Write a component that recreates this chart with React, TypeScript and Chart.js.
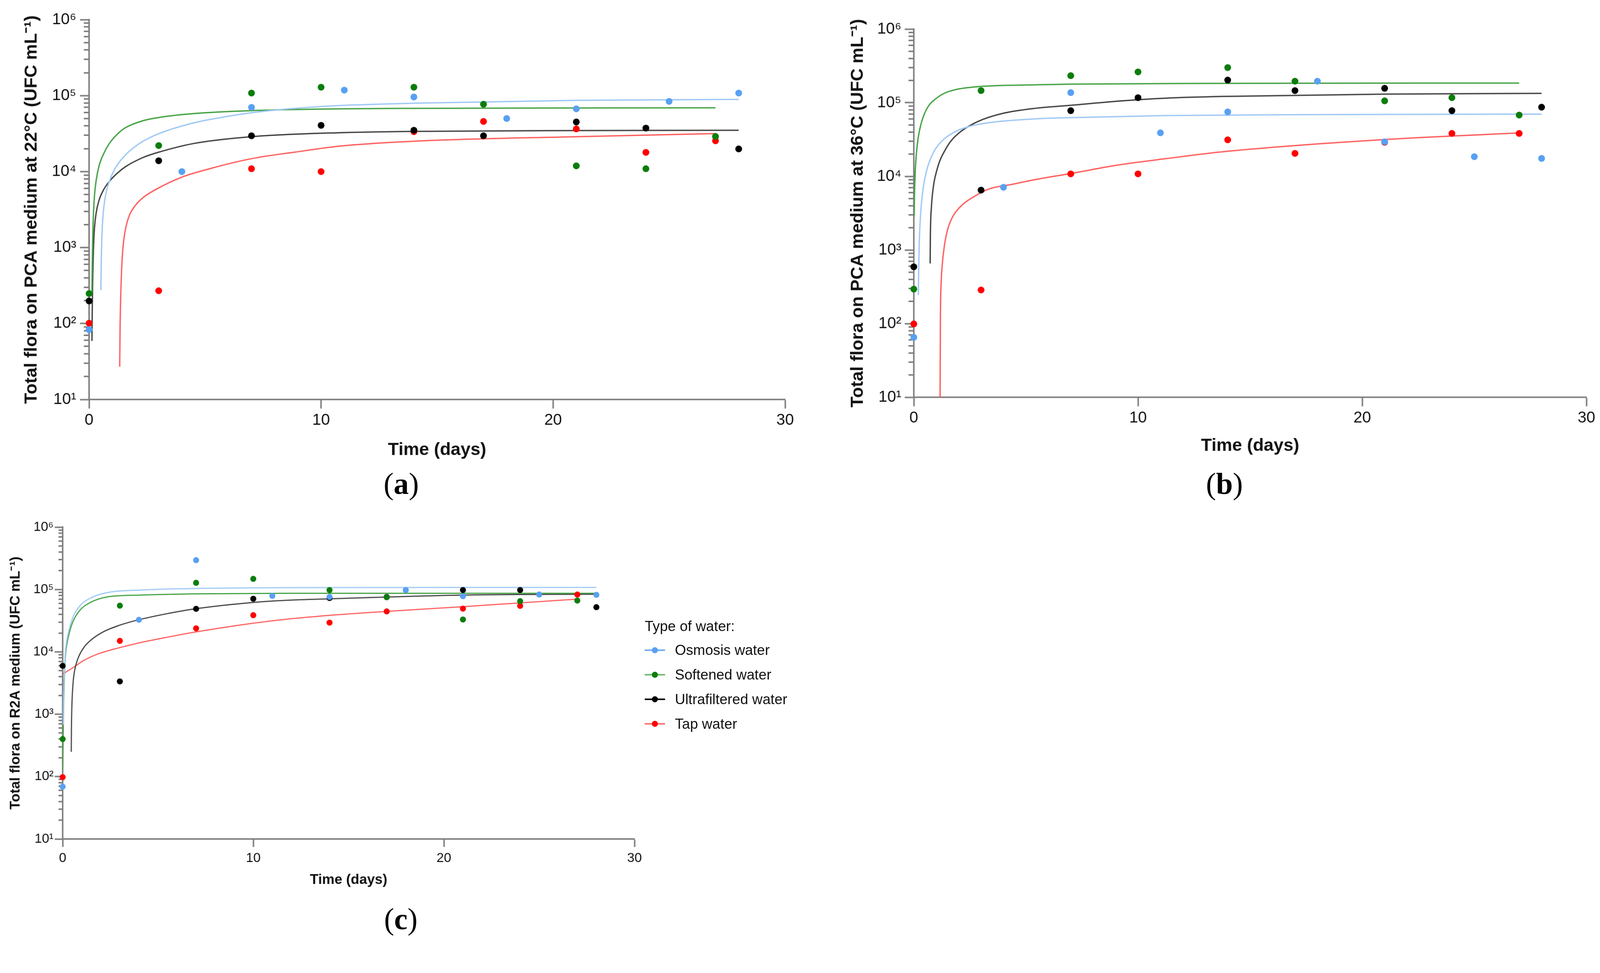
import { useEffect, useRef } from 'react';
import { Chart, registerables } from 'chart.js';

Chart.register(...registerables);

const FONT = "'Liberation Sans', Arial, Helvetica, sans-serif";
const SERIF = "'Liberation Serif', 'Times New Roman', Times, serif";
const AXIS_GREY = '#7f7f7f';
const TEXT = '#111111';
const PAGE_W = 4239;
const PAGE_H = 2490;

const SERIES_NAMES = ['Osmosis water', 'Softened water', 'Ultrafiltered water', 'Tap water'];
const DOT_COLORS = ['#58a0f2', '#0b7d0b', '#000000', '#ff0000'];
const FIT_COLORS = ['#9dc7f5', '#40a040', '#404040', '#ff5c5c'];
const LEGEND_LINES = ['#6aaaf5', '#6cb86c', '#000000', '#ff6e6e'];

// sampling days of each water type (same in the three media)
const DAYS_OSMOSIS = [0, 4, 7, 11, 14, 18, 21, 25, 28];
const DAYS_SOFTENED = [0, 3, 7, 10, 14, 17, 21, 24, 27];
const DAYS_ULTRA = [0, 3, 7, 10, 14, 17, 21, 24, 28];
const DAYS_TAP = [0, 3, 7, 10, 14, 17, 21, 24, 27];

// (a) PCA 22°C, UFC/mL
const A_OSMOSIS = [83, 10000, 70000, 118000, 96000, 50000, 67000, 84000, 108000];
const A_SOFTENED = [248, 22000, 108000, 129000, 129000, 77000, 11900, 10900, 29000];
const A_ULTRA = [198, 13900, 29600, 40600, 35000, 29600, 45000, 37400, 19900];
const A_TAP = [101, 270, 10900, 10000, 33500, 45700, 36500, 17900, 25400];

// (b) PCA 36°C
const B_OSMOSIS = [65, 7100, 137000, 39000, 75000, 196000, 29500, 18500, 17500];
const B_SOFTENED = [294, 146000, 233000, 262000, 300000, 196000, 106000, 117000, 68000];
const B_ULTRA = [590, 6500, 78000, 117000, 203000, 146000, 157000, 78000, 87000];
const B_TAP = [99, 286, 10800, 10800, 31300, 20500, 29000, 38300, 38300];

// (c) R2A
const C_OSMOSIS = [69, 32700, 295000, 79000, 76000, 98000, 78000, 83000, 82000];
const C_SOFTENED = [400, 55000, 128000, 148000, 98000, 75000, 33000, 65000, 66500];
const C_ULTRA = [5970, 3360, 49000, 71000, 73000, 76000, 98000, 98000, 52000];
const C_TAP = [98, 15000, 23800, 38700, 29400, 44500, 49300, 54700, 83000];

// fitted curves: [day, UFC/mL]
const A_FIT_OSMOSIS: [number, number][] = [[0.508, 275], [0.523, 630], [0.545, 1220], [0.581, 2190], [0.639, 3480], [0.726, 5160], [0.871, 7420], [1.09, 10600], [1.38, 14300], [1.74, 18600], [2.32, 25000], [3, 31500], [4.5, 43700], [5.95, 53200], [7, 59500], [8.86, 67900], [10.8, 74000], [14, 79400], [21, 86500], [28, 89100]];
const A_FIT_SOFTENED: [number, number][] = [[0.123, 250], [0.138, 630], [0.16, 1480], [0.189, 2860], [0.232, 4840], [0.305, 7660], [0.436, 12100], [0.617, 16900], [0.871, 23400], [1.235, 31500], [1.6, 38300], [2.32, 46700], [3, 51500], [4.5, 58000], [7, 63500], [10.8, 67000], [14, 68000], [21, 68800], [27, 69000]];
const A_FIT_ULTRA: [number, number][] = [[0.123, 59], [0.138, 170], [0.16, 455], [0.189, 1000], [0.232, 1810], [0.305, 2860], [0.436, 4250], [0.617, 5710], [0.871, 7420], [1.235, 9640], [1.6, 11750], [2.32, 15300], [3, 18000], [4.5, 23400], [7, 28800], [10.8, 32500], [14, 33800], [21, 34700], [28, 35000]];
const A_FIT_TAP: [number, number][] = [[1.32, 27], [1.336, 88], [1.365, 235], [1.416, 630], [1.489, 1220], [1.598, 1930], [1.743, 2680], [1.96, 3480], [2.32, 4530], [3, 6100], [4, 8460], [5.23, 10970], [7, 14800], [8.86, 18000], [10.8, 21600], [14, 25100], [21, 28800], [27, 31600]];

const B_FIT_OSMOSIS: [number, number][] = [[0.203, 245], [0.218, 552], [0.24, 1160], [0.278, 2290], [0.338, 4220], [0.428, 7260], [0.563, 11700], [0.751, 17500], [0.977, 23800], [1.352, 32200], [1.878, 40800], [2.48, 47700], [3.6, 54700], [5.485, 60500], [7.02, 62700], [11.25, 67000], [18, 69000], [28, 70000]];
const B_FIT_SOFTENED: [number, number][] = [[0.015, 2820], [0.03, 5530], [0.06, 10900], [0.113, 20000], [0.188, 32200], [0.3, 48400], [0.45, 68000], [0.676, 92200], [0.977, 113000], [1.352, 134000], [1.878, 151000], [2.48, 161000], [3.6, 170000], [5.485, 175000], [7.02, 179000], [14, 183000], [27, 185000]];
const B_FIT_ULTRA: [number, number][] = [[0.729, 655], [0.736, 1330], [0.751, 2450], [0.781, 3680], [0.826, 5530], [0.902, 8320], [1.014, 11700], [1.165, 16400], [1.352, 21500], [1.653, 30100], [2.104, 40800], [2.855, 55500], [3.982, 71800], [5.485, 84400], [7.02, 92300], [9.24, 105700], [11.25, 115300], [14, 122000], [21, 131000], [28, 134000]];
const B_FIT_TAP: [number, number][] = [[1.172, 10], [1.187, 124], [1.217, 344], [1.277, 676], [1.367, 1160], [1.503, 1870], [1.728, 2810], [2.104, 3950], [2.63, 5180], [3.381, 6780], [4.358, 7760], [5.485, 9120], [7.02, 10960], [9.24, 14450], [11.25, 17400], [14, 21900], [21, 31600], [27, 38900]];

const C_FIT_OSMOSIS: [number, number][] = [[0.03, 680], [0.05, 2090], [0.09, 4570], [0.13, 8710], [0.2, 14100], [0.34, 22900], [0.56, 37200], [0.91, 55000], [1.44, 72400], [2.33, 89000], [4.09, 98000], [7, 104000], [11.77, 107000], [20, 108000], [28, 108000]];
const C_FIT_SOFTENED: [number, number][] = [[0.01, 126], [0.04, 930], [0.08, 3090], [0.13, 7410], [0.22, 13200], [0.38, 21900], [0.56, 31600], [0.91, 46800], [1.44, 61700], [2.33, 75900], [4.09, 81300], [7, 85000], [11.77, 87000], [20, 87000], [28, 87000]];
const C_FIT_ULTRA: [number, number][] = [[0.451, 250], [0.46, 580], [0.477, 1190], [0.513, 2250], [0.575, 3940], [0.69, 6110], [0.866, 8740], [1.132, 12000], [1.53, 15900], [2.149, 21100], [3, 26800], [3.99, 32700], [5.42, 40600], [7, 49200], [10, 62000], [11.77, 67100], [14, 70800], [21, 81300], [28, 84300]];
const C_FIT_TAP: [number, number][] = [[0.02, 4440], [0.56, 5620], [1.09, 7240], [1.88, 9330], [3, 11700], [4.09, 14100], [5.42, 17000], [7, 20900], [10, 28800], [11.77, 33500], [14, 38500], [17, 44500], [21, 53000], [24, 61000], [27, 70000]];

const X_TICKS = [0, 10, 20, 30];
const Y_DECADES = [1, 2, 3, 4, 5, 6];
const Y_MANTISSAS = [1, 2, 3, 4, 5, 6, 7, 8, 9];
const SUPERSCRIPTS = ['⁰', '¹', '²', '³', '⁴', '⁵', '⁶'];

const SERIES_DAYS = [DAYS_OSMOSIS, DAYS_SOFTENED, DAYS_ULTRA, DAYS_TAP];

function buildYTicks() {
  const ticks: { value: number; major: boolean; exp: number }[] = [];
  Y_DECADES.forEach((e, i) => {
    const mantissas = i === Y_DECADES.length - 1 ? [1] : Y_MANTISSAS;
    mantissas.forEach(m => ticks.push({ value: m * Math.pow(10, e), major: m === 1, exp: e }));
  });
  return ticks;
}

// short minor ticks on the log axis (Chart.js uses one tick length per axis)
const minorTicks = {
  id: 'minorTicks',
  beforeDatasetsDraw(chart: any, _args: any, opts: any) {
    const y = chart.scales.y;
    const ctx = chart.ctx;
    ctx.save();
    ctx.strokeStyle = AXIS_GREY;
    ctx.lineWidth = opts.width;
    y.ticks.forEach((t: any) => {
      if (t.major) return;
      const py = Math.round(y.getPixelForValue(t.value));
      ctx.beginPath();
      ctx.moveTo(y.right - opts.length, py);
      ctx.lineTo(y.right, py);
      ctx.stroke();
    });
    ctx.restore();
  },
};

interface PanelProps {
  left: number;
  top: number;
  width: number;
  height: number;
  yTitle: string;
  values: number[][];
  fits: [number, number][][];
  padTop: number;
  padRight: number;
  padBottom: number;
  yAxisWidth: number;
  xAxisHeight: number;
  yTitlePad: number;
  xTickPad: number;
  yTickPad: number;
  tickSize: number;
  titleSize: number;
  majorLen: number;
  minorLen: number;
  dot: number;
  lineWidth: number;
}

function Panel(p: PanelProps) {
  const canvasRef = useRef<HTMLCanvasElement>(null);

  useEffect(() => {
    if (!canvasRef.current) return;

    const pointSets = p.values.map((vals, i) => ({
      label: SERIES_NAMES[i],
      data: SERIES_DAYS[i].map((d, j) => ({ x: d, y: vals[j] })),
      showLine: false,
      pointRadius: p.dot,
      pointHoverRadius: p.dot,
      pointBackgroundColor: DOT_COLORS[i],
      pointBorderColor: DOT_COLORS[i],
      pointBorderWidth: 0,
      clip: false as const,
      order: 0,
    }));
    const fitSets = p.fits.map((fit, i) => ({
      label: SERIES_NAMES[i] + ' (fit)',
      data: fit.map(([x, y]) => ({ x, y })),
      showLine: true,
      pointRadius: 0,
      borderColor: FIT_COLORS[i],
      borderWidth: p.lineWidth,
      cubicInterpolationMode: 'monotone' as const,
      order: 1,
    }));

    const tickFont = { family: FONT, size: p.tickSize };
    const titleFont = { family: FONT, size: p.titleSize, weight: 'bold' as const };

    const chart = new Chart(canvasRef.current, {
      type: 'scatter',
      data: { datasets: [...pointSets, ...fitSets] as any },
      options: {
        animation: false,
        responsive: false,
        events: [],
        layout: { padding: { left: 0, top: p.padTop, right: p.padRight, bottom: p.padBottom } },
        plugins: {
          legend: { display: false },
          tooltip: { enabled: false },
          minorTicks: { length: p.minorLen, width: 4 },
        } as any,
        scales: {
          x: {
            type: 'linear',
            min: 0,
            max: 30,
            afterBuildTicks: (s: any) => {
              s.ticks = X_TICKS.map(v => ({ value: v }));
            },
            afterFit: (s: any) => {
              s.height = p.xAxisHeight;
            },
            border: { color: AXIS_GREY, width: 4 },
            grid: {
              drawOnChartArea: false,
              drawTicks: true,
              tickLength: p.majorLen,
              tickColor: AXIS_GREY,
              tickWidth: 4,
            },
            ticks: { font: tickFont, color: TEXT, padding: p.xTickPad, maxRotation: 0, autoSkip: false },
            title: {
              display: true,
              text: 'Time (days)',
              font: titleFont,
              color: TEXT,
              padding: { top: 0, bottom: 0 },
            },
          },
          y: {
            type: 'logarithmic',
            min: 10,
            max: 1000000,
            afterBuildTicks: (s: any) => {
              s.ticks = buildYTicks();
            },
            afterFit: (s: any) => {
              s.width = p.yAxisWidth;
            },
            border: { color: AXIS_GREY, width: 4 },
            grid: {
              drawOnChartArea: false,
              drawTicks: true,
              tickLength: p.majorLen,
              tickWidth: 4,
              tickColor: (ctx: any) => (ctx.tick && ctx.tick.major ? AXIS_GREY : 'rgba(0,0,0,0)'),
            },
            ticks: {
              font: tickFont,
              color: TEXT,
              padding: p.yTickPad,
              autoSkip: false,
              callback: (_v: any, i: number, ticks: any[]) =>
                ticks[i].major ? '10' + SUPERSCRIPTS[ticks[i].exp] : '',
            },
            title: {
              display: true,
              text: p.yTitle,
              font: titleFont,
              color: TEXT,
              padding: { top: p.yTitlePad, bottom: 0 },
            },
          },
        },
      },
      plugins: [minorTicks],
    });

    return () => {
      chart.destroy();
    };
  }, []);

  return (
    <canvas
      ref={canvasRef}
      width={p.width}
      height={p.height}
      style={{ position: 'absolute', left: p.left, top: p.top, width: p.width, height: p.height }}
    />
  );
}

function Legend() {
  const rows = [1722, 1787, 1852, 1917];
  return (
    <div style={{ fontFamily: FONT, fontSize: 38, color: TEXT }}>
      <div style={{ position: 'absolute', left: 1708, top: 1658 - 19, lineHeight: '38px', whiteSpace: 'nowrap' }}>
        Type of water:
      </div>
      {SERIES_NAMES.map((name, i) => (
        <div
          key={name}
          style={{ position: 'absolute', left: 1708, top: rows[i] - 19, height: 38, width: 500, lineHeight: '38px' }}
        >
          <span style={{ position: 'absolute', left: 0, top: 17, width: 54, height: 4, background: LEGEND_LINES[i] }} />
          <span
            style={{
              position: 'absolute',
              left: 19,
              top: 11,
              width: 16,
              height: 16,
              borderRadius: '50%',
              background: DOT_COLORS[i],
            }}
          />
          <span style={{ position: 'absolute', left: 80, whiteSpace: 'nowrap' }}>{name}</span>
        </div>
      ))}
    </div>
  );
}

function Caption({ letter, x, y }: { letter: string; x: number; y: number }) {
  return (
    <div
      style={{
        position: 'absolute',
        left: x,
        top: y,
        transform: 'translate(-50%, -50%)',
        fontFamily: SERIF,
        fontSize: 80,
        lineHeight: '80px',
        color: '#000',
        whiteSpace: 'nowrap',
      }}
    >
      (<b>{letter}</b>)
    </div>
  );
}

export default function App() {
  // the layout is drawn in reference pixels and fitted to the real viewport
  const scale = typeof window !== 'undefined' && window.innerWidth ? window.innerWidth / PAGE_W : 1;

  useEffect(() => {
    document.documentElement.style.overflow = 'hidden';
    document.body.style.overflow = 'hidden';
  }, []);

  return (
    <div
      style={{
        position: 'absolute',
        left: 0,
        top: 0,
        width: PAGE_W,
        height: PAGE_H,
        background: '#fff',
        overflow: 'hidden',
        transform: `scale(${scale})`,
        transformOrigin: '0 0',
      }}
    >
      <Panel
        left={0}
        top={0}
        width={2200}
        height={1240}
        yTitle="Total flora on PCA medium at 22°C (UFC mL⁻¹)"
        values={[A_OSMOSIS, A_SOFTENED, A_ULTRA, A_TAP]}
        fits={[A_FIT_OSMOSIS, A_FIT_SOFTENED, A_FIT_ULTRA, A_FIT_TAP]}
        padTop={52}
        padRight={120}
        padBottom={20}
        yAxisWidth={236}
        xAxisHeight={162}
        yTitlePad={56}
        xTickPad={6}
        yTickPad={10}
        tickSize={42}
        titleSize={47}
        majorLen={24}
        minorLen={14}
        dot={9}
        lineWidth={3.5}
      />
      <Panel
        left={2200}
        top={0}
        width={2039}
        height={1240}
        yTitle="Total flora on PCA medium at 36°C (UFC mL⁻¹)"
        values={[B_OSMOSIS, B_SOFTENED, B_ULTRA, B_TAP]}
        fits={[B_FIT_OSMOSIS, B_FIT_SOFTENED, B_FIT_ULTRA, B_FIT_TAP]}
        padTop={77}
        padRight={36}
        padBottom={31}
        yAxisWidth={221}
        xAxisHeight={157}
        yTitlePad={45}
        xTickPad={6}
        yTickPad={9}
        tickSize={42}
        titleSize={47}
        majorLen={24}
        minorLen={14}
        dot={9}
        lineWidth={3.5}
      />
      <Panel
        left={0}
        top={1340}
        width={1760}
        height={1060}
        yTitle="Total flora on R2A medium (UFC mL⁻¹)"
        values={[C_OSMOSIS, C_SOFTENED, C_ULTRA, C_TAP]}
        fits={[C_FIT_OSMOSIS, C_FIT_SOFTENED, C_FIT_ULTRA, C_FIT_TAP]}
        padTop={56}
        padRight={79}
        padBottom={47}
        yAxisWidth={166}
        xAxisHeight={131}
        yTitlePad={20}
        xTickPad={9}
        yTickPad={3}
        tickSize={35}
        titleSize={37}
        majorLen={21}
        minorLen={11}
        dot={8}
        lineWidth={3}
      />
      <Legend />
      <Caption letter="a" x={1063} y={1281} />
      <Caption letter="b" x={3244} y={1281} />
      <Caption letter="c" x={1062} y={2434} />
    </div>
  );
}
